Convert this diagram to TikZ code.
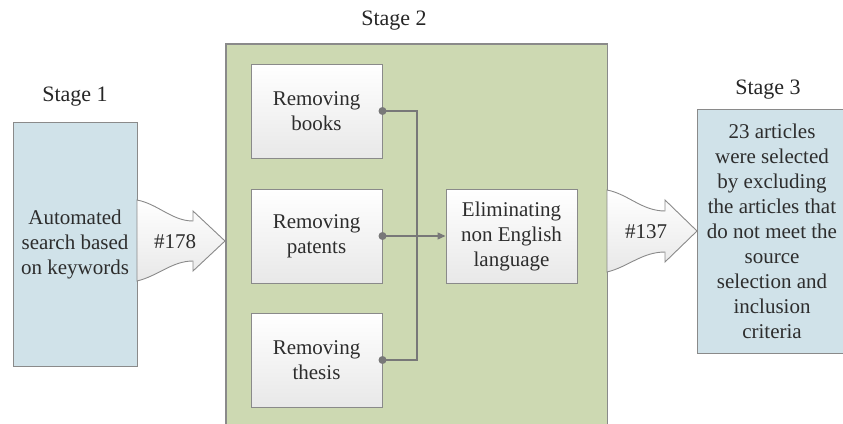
\documentclass[tikz,border=0pt]{standalone}
\usepackage{fontspec}
\setmainfont{LiberationSerif-Regular.ttf}
\usetikzlibrary{arrows.meta,shadows}
\definecolor{boxblue}{RGB}{208,226,233}
\definecolor{boxgreen}{RGB}{205,217,178}
\definecolor{edgegray}{RGB}{138,138,138}
\definecolor{linegray}{RGB}{120,120,120}
\definecolor{txt}{RGB}{45,45,45}
\tikzset{
  every node/.style={font=\rmfamily\fontsize{21}{25}\selectfont, text=txt, align=center, inner sep=0pt},
  bluebox/.style={draw=edgegray, line width=1pt, fill=boxblue, rectangle,
    drop shadow={shadow xshift=1pt, shadow yshift=-1.2pt, opacity=0.35}},
  whitebox/.style={draw=edgegray, line width=1pt, rectangle, top color=white, bottom color=black!9,
    minimum width=131pt, minimum height=94pt,
    drop shadow={shadow xshift=1pt, shadow yshift=-1.2pt, opacity=0.3}},
  blockarrow/.style={draw=edgegray, line width=0.9pt, top color=white, bottom color=black!9, line join=miter},
  conn/.style={draw=linegray, line width=1.3pt},
  dot/.style={fill=linegray},
  stagelabel/.style={font=\rmfamily\fontsize{22}{26}\selectfont, text=black!85}
}
\begin{document}
\begin{tikzpicture}[x=1pt,y=-1pt]
\useasboundingbox (0,0) rectangle (843,423);
% stage 2 background
\node (g) [fill=boxgreen, minimum width=381pt, minimum height=381pt, anchor=north west] at (226,44) {};
\draw[draw=edgegray, line width=1.2pt] (g.south west) |- (g.north east) -- (g.south east);
% stage labels
\node[stagelabel] (l1) at (75,97) {Stage 1};
\node[stagelabel] (l2) at (394,21) {Stage 2};
\node[stagelabel] (l3) at (768,90) {Stage 3};
% stage 1 and 3 boxes
\node (s1) [bluebox, minimum width=124pt, minimum height=244pt] at (75,244)
  {Automated\\search based\\on keywords};
\node (s3) [bluebox, minimum width=150pt, minimum height=244pt] at (772,231)
  {23 articles\\were selected\\by excluding\\the articles that\\do not meet the\\source\\selection and\\inclusion\\criteria};
% inner boxes
\node (books) [whitebox] at (316.5,111) {Removing\\books};
\node (patents) [whitebox] at (316.5,236) {Removing\\patents};
\node (thesis) [whitebox] at (316.5,360) {Removing\\thesis};
\node (elim) [whitebox] at (511.5,236) {Eliminating\\non English\\language};
% bus
\coordinate (bus) at (417,236);
\draw[conn] (books.east) -- (books.east -| bus) -- (thesis.east -| bus) -- (thesis.east);
\draw[conn, -{Triangle[length=8pt,width=7pt]}] (patents.east) -- (elim.west);
\fill[dot] (books.east) circle (4pt);
\fill[dot] (patents.east) circle (4pt);
\fill[dot] (thesis.east) circle (4pt);
% block arrow 1
\path[blockarrow] (137,200) .. controls (158,204) and (172,221) .. (193,221)
  -- (193,211) -- (225,241) -- (193,271) -- (193,261)
  .. controls (172,261) and (158,276) .. (137,281) -- cycle;
\node (a1) at (175,242) {\#178};
% block arrow 2
\path[blockarrow] (607,190) .. controls (628,194) and (642,211) .. (665,211)
  -- (665,200) -- (697,231) -- (665,262) -- (665,252)
  .. controls (642,252) and (628,267) .. (607,272) -- cycle;
\node (a2) at (646,232) {\#137};
\end{tikzpicture}
\end{document}
